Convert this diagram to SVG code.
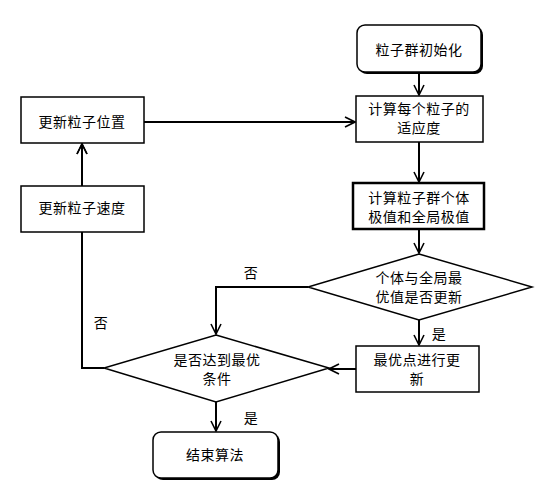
<svg xmlns="http://www.w3.org/2000/svg" width="546" height="501" viewBox="0 0 546 501">
<defs>
<style>
.box{fill:#fff;stroke:#000;stroke-width:1.5}
.thick{stroke-width:2.5}
.shadow{fill:#000}
.t{font-family:"Noto Sans CJK SC","Liberation Sans",sans-serif;font-size:14px;fill:#000;text-anchor:middle;letter-spacing:0.5px}
.c{fill:none;stroke:#000;stroke-width:2}
</style>
<marker id="ah" viewBox="0 0 12 12" refX="11" refY="6" markerWidth="12" markerHeight="12" markerUnits="userSpaceOnUse" orient="auto">
<path d="M1,1 L11,6 L1,11" fill="none" stroke="#000" stroke-width="1.6"/>
</marker>
</defs>
<rect width="546" height="501" fill="#fff"/>
<g id="connectors">
<path class="c" d="M419,72 V95" marker-end="url(#ah)"/>
<path class="c" d="M419,142 V182" marker-end="url(#ah)"/>
<path class="c" d="M419,230 V253" marker-end="url(#ah)"/>
<path class="c" d="M419,320 V345" marker-end="url(#ah)"/>
<path class="c" d="M308,287 H216 V334" marker-end="url(#ah)"/>
<path class="c" d="M356,369 H329" marker-end="url(#ah)"/>
<path class="c" d="M104,368 H82 V144" marker-end="url(#ah)"/>
<path class="c" d="M82,186 V144" marker-end="url(#ah)"/>
<path class="c" d="M144,122 H355" marker-end="url(#ah)"/>
<path class="c" d="M216,402 V431" marker-end="url(#ah)"/>
<text class="t" x="251" y="278">否</text>
<text class="t" x="101" y="328">否</text>
<text class="t" x="439" y="339">是</text>
<text class="t" x="251" y="423">是</text>
</g>
<g id="start">
<rect class="shadow" x="359" y="27" width="124" height="47" rx="8"/>
<rect class="box" x="357" y="25" width="124" height="47" rx="8"/>
<text class="t" x="419" y="55">粒子群初始化</text>
</g>
<g id="fitness">
<rect class="box" x="356" y="96" width="127" height="46"/>
<text class="t" x="419" y="114">计算每个粒子的<tspan x="419" dy="19">适应度</tspan></text>
</g>
<g id="extremum">
<rect class="box thick" x="353" y="183" width="131" height="46"/>
<text class="t" x="419" y="203">计算粒子群个体<tspan x="419" dy="19">极值和全局极值</tspan></text>
</g>
<g id="decision1">
<polygon class="box" points="419,254 532,287 419,320 308,287"/>
<text class="t" x="419" y="283">个体与全局最<tspan x="419" dy="19">优值是否更新</tspan></text>
</g>
<g id="updateBest">
<rect class="box" x="356" y="346" width="123" height="46"/>
<text class="t" x="417" y="365">最优点进行更<tspan x="417" dy="19">新</tspan></text>
</g>
<g id="decision2">
<polygon class="box" points="216,335 329,368 216,402 104,368"/>
<text class="t" x="217" y="365">是否达到最优<tspan x="217" dy="19">条件</tspan></text>
</g>
<g id="end">
<rect class="shadow" x="155" y="434" width="125" height="46" rx="8"/>
<rect class="box" x="153" y="432" width="125" height="46" rx="8"/>
<text class="t" x="215" y="460">结束算法</text>
</g>
<g id="updatePos">
<rect class="box" x="21" y="97" width="123" height="46"/>
<text class="t" x="82" y="127">更新粒子位置</text>
</g>
<g id="updateVel">
<rect class="box" x="21" y="186" width="123" height="46"/>
<text class="t" x="82" y="213">更新粒子速度</text>
</g>
</svg>
